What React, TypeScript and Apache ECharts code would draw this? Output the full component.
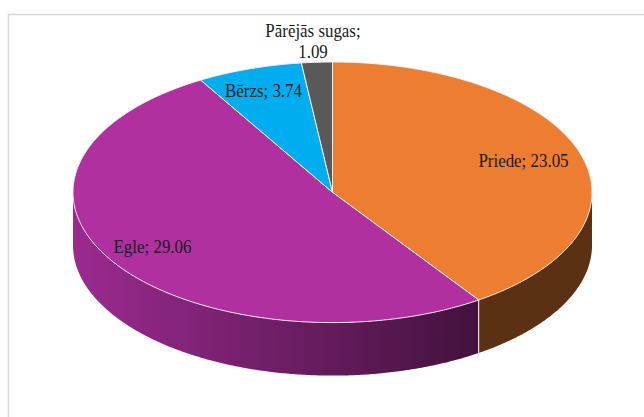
import React, { useEffect, useRef } from "react";
import * as echarts from "echarts";

const names = ["Priede", "Egle", "Bērzs", "Pārējās sugas"];
const values = [23.05, 29.06, 3.74, 1.09];
const topColors = ["#ED7D31", "#B0309F", "#00AEEF", "#595959"];
const sideColors: any[] = [
  "#5C3113",
  new echarts.graphic.LinearGradient(0, 0, 1, 0, [
    { offset: 0, color: "#9C2A90" },
    { offset: 1, color: "#42123D" },
  ]),
  "#00577A",
  "#2C2C2C",
];
const labelSeparators = ["; ", "; ", "; ", ";\n"];
const labelAnchors = [
  [523.5, 161],
  [152.5, 247],
  [263.5, 91],
  [313, 41],
];

const CX = 332.5;
const CY = 192.3;
const RX = 259.5;
const RY = 130.3;
const DEPTH = 53;

const pt = (deg: number, dy = 0) => {
  const a = (deg * Math.PI) / 180;
  return [CX + RX * Math.sin(a), CY - RY * Math.cos(a) + dy];
};

const arc = (from: number, to: number, dy = 0) => {
  const out: number[][] = [];
  const n = Math.max(2, Math.ceil(Math.abs(to - from) * 2));
  for (let k = 0; k <= n; k++) out.push(pt(from + ((to - from) * k) / n, dy));
  return out;
};

function renderItem(params: any, api: any) {
  const i = params.dataIndex;
  const total = values.reduce((s, v) => s + v, 0);
  let before = 0;
  for (let k = 0; k < i; k++) before += values[k];
  const a0 = (before / total) * 360;
  const a1 = ((before + api.value(0)) / total) * 360;
  const children: any[] = [];

  const s0 = Math.max(a0, 90);
  const s1 = Math.min(a1, 270);
  if (s1 > s0) {
    children.push({
      type: "polygon",
      shape: { points: [...arc(s0, s1, DEPTH), ...arc(s1, s0)] },
      style: { fill: sideColors[i], stroke: null },
      z2: 1,
    });
    if (a0 > 90 && a0 < 270) {
      const t = pt(a0);
      const b = pt(a0, DEPTH);
      children.push({
        type: "line",
        shape: { x1: t[0], y1: t[1], x2: b[0], y2: b[1] },
        style: { stroke: "#E3DEDC", lineWidth: 1.2 },
        z2: 2,
      });
    }
  }

  children.push({
    type: "polygon",
    shape: { points: [[CX, CY], ...arc(a0, a1)] },
    style: { fill: topColors[i], stroke: "#F4EEF0", lineWidth: 1 },
    z2: 3,
  });

  const [lx, ly] = labelAnchors[i];
  children.push({
    type: "text",
    x: lx,
    y: ly,
    scaleX: 0.94,
    style: {
      text: `${names[i]}${labelSeparators[i]}${api.value(0).toFixed(2)}`,
      fill: "#1A1A1A",
      font: '18px "Liberation Serif"',
      lineHeight: 21,
      align: "center",
      verticalAlign: "middle",
    },
    z2: 5,
  });
  return { type: "group", children };
}

export default function App() {
  const ref = useRef<HTMLDivElement>(null);
  useEffect(() => {
    const chart = echarts.init(ref.current!, null, { renderer: "svg" });
    chart.setOption({
      animation: false,
      backgroundColor: "#fff",
      graphic: [
        {
          type: "polyline",
          silent: true,
          shape: { points: [[8.5, 417], [8.5, 14.5], [644, 14.5]] },
          style: { stroke: "#D9D9D9", lineWidth: 1.5, fill: null },
        },
      ],
      series: [
        {
          type: "custom",
          coordinateSystem: "none",
          data: values.map((v) => [v]),
          renderItem,
          silent: true,
        },
      ],
    });
    return () => chart.dispose();
  }, []);
  return (
    <div
      ref={ref}
      style={{ position: "fixed", left: 0, top: 0, width: 644, height: 417 }}
    />
  );
}
